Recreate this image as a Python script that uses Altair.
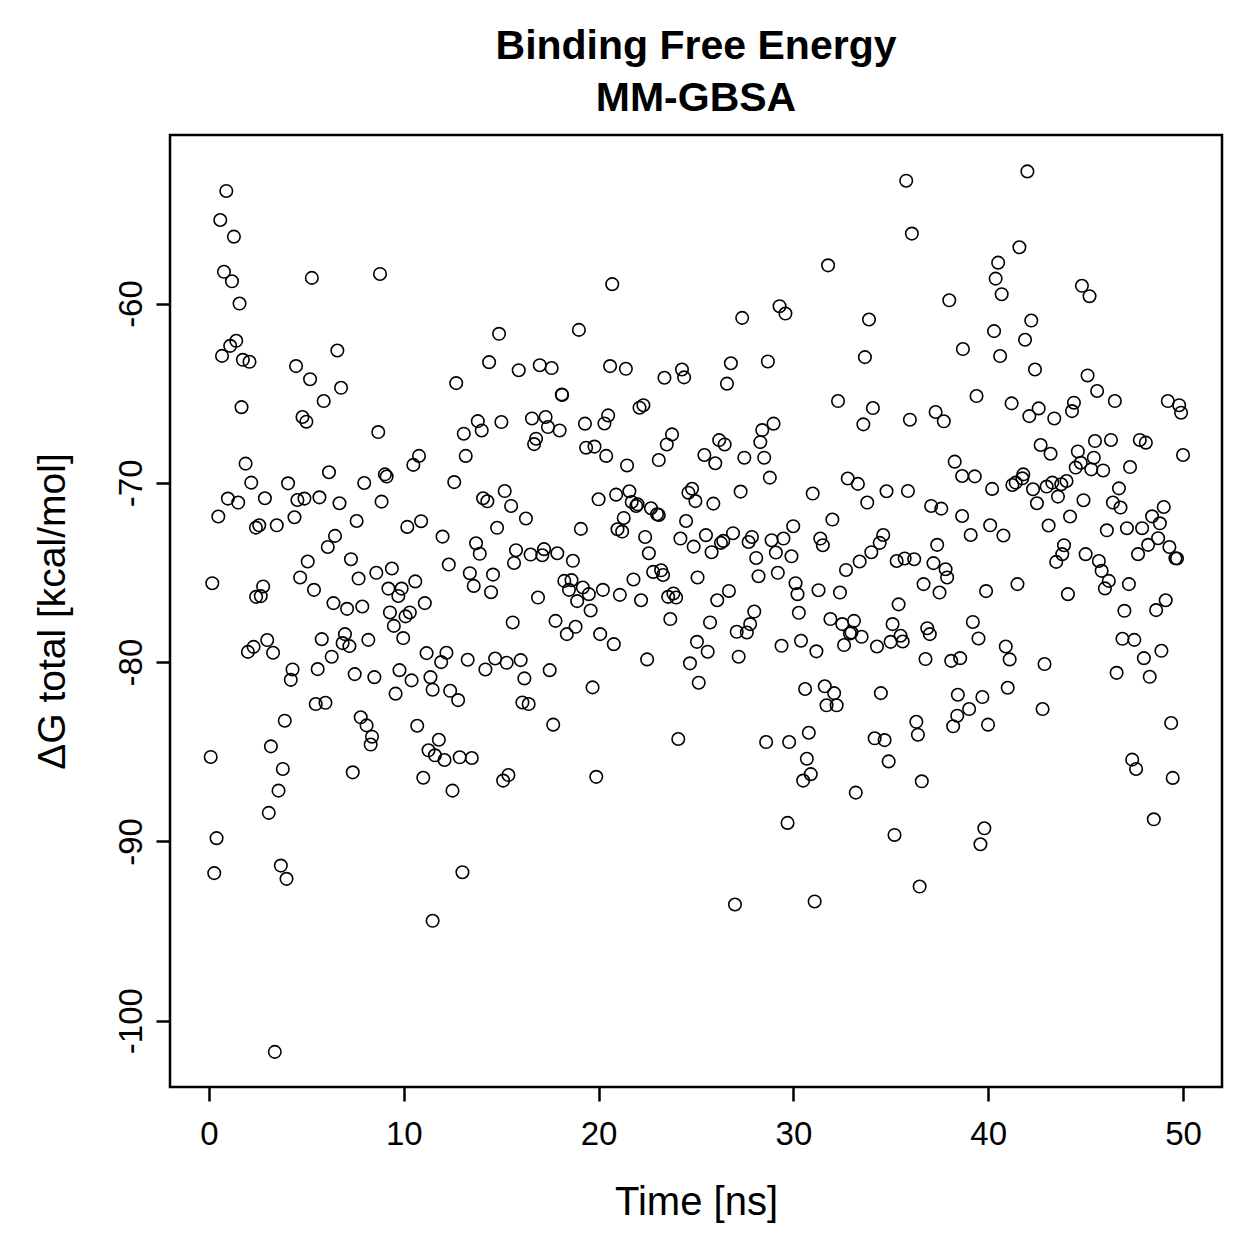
import altair as alt
import pandas as pd

time_ns = [
    0.89, 0.58, 1.28, 0.77, 1.18, 1.57, 5.28, 8.78, 1.40, 1.09, 0.67, 1.74, 2.08, 6.59, 4.47, 5.19,
    6.78, 5.89, 1.67, 4.80, 5.00, 8.69, 10.78,
    1.88, 2.17, 4.06, 6.16, 7.97, 9.03, 9.12, 10.49, 0.97, 1.50, 2.87, 4.54, 4.90, 5.67, 6.70, 8.86,
    0.48, 2.41, 2.58, 3.48, 4.39, 7.58, 10.18, 10.89, 6.47, 6.10, 5.07, 7.29, 4.68, 0.17, 2.78, 2.42,
    2.66, 5.39, 7.68, 8.59, 9.39, 9.21, 9.89, 9.72, 10.59, 11.08, 6.39, 7.09, 7.87, 9.29, 10.09, 10.31,
    9.49, 9.97, 2.99, 5.79, 6.98, 6.86, 7.21, 8.18, 2.00, 2.29, 3.29, 6.30, 11.17, 4.29, 4.20, 5.58,
    7.48, 8.49, 9.78, 10.40, 11.37, 11.48, 9.58, 5.48, 5.98, 3.89, 7.79, 8.09, 8.37, 8.30, 10.69, 3.18,
    0.09, 3.79, 7.38, 11.00, 11.27, 11.60, 11.80, 12.09,
    3.57, 3.07, 0.39, 0.27, 3.69, 3.98, 11.48, 3.38,
    20.70, 14.89, 18.99, 14.38, 15.90, 16.98, 17.59, 20.59, 21.40, 23.38, 24.28, 24.39, 12.69, 18.11,
    18.13, 22.10, 22.30, 13.80, 14.00, 15.01, 16.58, 17.28, 17.40, 18.00, 19.30, 20.49, 20.30, 23.77,
    23.50, 13.08, 16.79, 16.69, 19.36, 19.79, 13.18, 20.39,
    21.46, 23.09, 12.59, 15.18, 14.07, 14.29, 15.51, 16.27, 14.79, 11.99, 13.71, 13.90, 12.31, 13.39,
    13.59, 14.58, 14.48, 15.76, 15.66, 16.51, 17.11, 17.20, 17.88, 18.68, 19.09, 20.00, 20.90, 21.58,
    21.70, 21.93, 22.69, 23.00, 23.09, 22.00, 21.29, 20.97, 21.21, 22.39, 22.58, 22.80, 23.21, 23.31,
    24.49, 24.20, 24.88, 24.61, 24.80, 24.97, 18.24, 18.61, 18.48, 19.19, 19.50, 18.90, 20.22, 19.59,
    16.89, 21.09, 21.79, 22.18, 23.57, 23.84, 23.98, 23.68, 25.08, 15.59, 17.79, 18.37, 18.82, 20.08,
    20.78, 25.05, 22.49, 24.69, 25.14, 12.19, 11.92, 13.28, 14.19, 14.69, 15.28, 16.00, 16.19, 17.49,
    19.69, 12.38, 12.79, 16.09, 16.41, 17.67, 24.09, 12.87, 13.49, 15.10, 15.37, 19.88, 12.50, 13.01,
    35.79, 36.08, 31.78, 38.00, 27.37, 29.29, 29.59, 33.88, 38.70, 26.79, 28.69, 26.59, 33.67, 32.29,
    34.08, 33.59, 35.98, 37.30, 37.72, 28.98, 28.40, 28.30, 26.19, 26.47, 25.43, 27.48, 28.50,
    25.99, 28.79, 27.29, 25.89, 30.99, 32.79, 33.31, 33.79, 34.78, 35.88, 37.07, 37.59, 38.28, 38.66,
    38.66, 25.51, 25.80, 26.28, 26.40, 26.90, 27.70, 27.87, 28.09, 28.88, 29.49, 29.99, 29.10, 29.90,
    28.21, 29.20, 31.38, 31.51, 32.00, 32.70, 33.40, 34.00, 34.43, 34.61, 35.30, 35.71, 36.20, 37.38,
    37.19, 37.81, 37.89, 36.68, 37.50, 26.69, 26.09, 25.72, 25.60, 27.99, 27.78, 27.09, 27.61, 27.19,
    30.11, 30.21, 31.29, 32.39, 30.28, 31.90, 32.51, 33.11, 32.90, 32.98, 33.50, 32.60, 34.29, 29.39,
    30.39, 31.18, 35.40, 35.09, 35.50, 34.99, 35.61, 36.87, 37.00, 36.78, 38.10, 38.56, 30.60, 31.61,
    32.09, 31.70, 32.22, 34.49, 38.44, 36.31, 36.39, 38.20, 38.41, 30.79, 28.60, 29.78, 34.17, 34.68,
    30.69, 34.89, 30.89, 30.50, 33.20, 36.59, 29.70, 35.19, 36.48, 27.00, 31.09,
    42.01, 41.60, 40.51, 40.38, 40.69, 44.81, 45.20, 42.21, 40.30, 41.89, 40.61, 42.40, 45.10, 45.59,
    39.40, 41.20, 42.59, 42.11, 43.39, 44.40, 44.30, 46.50, 49.22, 49.80, 49.90, 42.69, 43.20, 44.60,
    45.48, 46.30, 47.78, 48.09, 50.00, 45.42,
    44.75, 44.49, 45.29, 45.90, 47.28, 39.31, 40.20, 41.24, 41.41, 41.75, 41.80, 42.30, 42.50, 43.00,
    43.29, 43.75, 44.02, 43.58, 44.89, 46.71, 46.40, 46.79, 49.01, 48.41, 48.81, 40.10, 39.10, 40.78,
    43.10, 44.20, 46.09, 47.12, 47.90, 43.89, 43.80, 43.49, 45.00, 45.68, 45.82, 46.19, 45.99, 47.22,
    48.21, 48.72, 49.30, 49.61, 49.69, 47.69, 41.50, 39.89, 44.09, 46.99, 49.11, 48.62, 39.21, 39.50,
    40.90, 41.10, 42.89, 46.89, 47.50, 47.99, 48.89, 46.59, 48.29, 41.00, 39.70, 39.02, 42.79, 39.99,
    49.39, 47.39, 47.59, 49.47, 39.80, 39.60, 48.50,
]

dg_total = [
    -53.72, -55.34, -56.27, -58.23, -58.76, -60.00, -58.57, -58.35, -62.08, -62.36, -62.92, -63.14,
    -63.25, -62.62, -63.49, -64.22, -64.70, -65.44, -65.78, -66.33, -66.59, -67.17, -68.50,
    -68.93, -69.99, -70.03, -69.41, -70.01, -69.53, -69.65, -69.00, -70.88, -71.10, -70.86, -70.96,
    -70.88, -70.81, -71.14, -71.05, -71.88, -72.50, -72.37, -72.37, -71.92, -72.13, -72.46, -72.14,
    -72.96, -73.58, -74.39, -74.26, -75.28, -75.60, -75.78, -76.36, -76.32, -75.97, -75.34, -75.02,
    -74.78, -75.90, -75.90, -76.31, -75.50, -76.71, -76.71, -77.03, -76.90, -77.23, -77.45, -77.23,
    -77.98, -78.66, -78.77, -78.72, -78.44, -78.94, -79.11, -78.76, -79.43, -79.15, -79.48, -79.70,
    -79.50, -80.41, -80.99, -80.39, -80.67, -80.84, -80.45, -81.02, -80.84, -81.54, -81.76, -82.34,
    -82.27, -83.27, -83.08, -83.53, -84.16, -84.60, -83.55, -84.70, -85.29, -85.96, -86.15, -86.45,
    -84.92, -85.20, -84.33, -85.46,
    -87.17, -88.41, -89.82, -91.77, -91.35, -92.09, -94.43, -101.74,
    -58.92, -61.69, -61.47, -63.27, -63.72, -63.44, -63.60, -63.49, -63.64, -64.14, -63.68, -64.12,
    -64.44, -65.07, -65.10, -65.81, -65.67, -66.56, -67.08, -66.61, -66.41, -66.33, -66.89, -67.08,
    -66.70, -66.24, -66.69, -67.30, -67.86, -67.26, -67.54, -67.84, -68.04, -67.98, -68.50, -68.50,
    -69.03, -68.73, -69.96, -70.46, -70.86, -71.03, -71.29, -71.99, -72.51, -73.00, -73.37, -73.96,
    -74.56, -75.04, -75.75, -75.12, -76.10, -73.76, -74.47, -74.00, -74.04, -73.70, -73.93, -74.35,
    -72.57, -70.92, -70.66, -70.47, -71.07, -71.29, -71.42, -71.75, -71.79, -71.20, -71.96, -72.59,
    -72.72, -73.02, -73.93, -74.97, -74.88, -75.14, -72.13, -73.11, -73.56, -70.55, -70.33, -71.02,
    -75.47, -75.43, -75.97, -75.84, -76.21, -76.60, -75.97, -77.12, -76.40, -76.25, -75.39, -76.55,
    -76.36, -76.17, -76.40, -77.60, -75.28, -77.79, -77.70, -78.44, -78.03, -78.44, -79.00, -78.87,
    -79.85, -80.07, -81.15, -79.48, -80.00, -79.87, -80.41, -79.80, -80.04, -79.89, -80.91, -80.45,
    -81.41, -81.60, -82.12, -82.25, -82.34, -83.49, -84.29, -85.31, -85.35, -86.61, -86.30, -86.40,
    -87.17, -91.72,
    -53.15, -56.10, -57.87, -59.82, -60.80, -60.15, -60.56, -60.89, -62.54, -63.33, -63.23, -64.47,
    -62.99, -65.44, -65.83, -66.74, -66.48, -66.05, -66.57, -66.70, -67.06, -67.73, -67.62, -67.86,
    -68.45, -68.60, -68.60,
    -68.91, -69.71, -70.49, -71.16, -70.60, -69.76, -70.06, -71.10, -70.47, -70.46, -71.29, -71.44,
    -68.82, -69.62, -71.85, -72.92, -73.87, -73.35, -73.24, -72.81, -73.30, -73.02, -74.19, -73.20,
    -73.11, -72.42, -73.89, -74.10, -75.21, -75.02, -73.11, -73.48, -72.05, -74.86, -74.39, -73.87,
    -73.35, -72.91, -74.36, -74.22, -74.26, -73.46, -74.48, -74.82, -75.28, -75.65, -76.12, -76.03,
    -76.55, -77.79, -79.42, -77.18, -77.88, -78.31, -78.35, -79.70, -75.60, -76.21, -75.99, -76.12,
    -77.25, -77.60, -77.88, -77.70, -78.40, -78.35, -78.59, -79.05, -79.13, -79.09, -78.81, -79.40,
    -76.78, -77.88, -78.53, -78.87, -78.85, -78.11, -78.44, -79.83, -79.93, -79.78, -81.50, -81.35,
    -81.73, -82.41, -82.41, -81.73, -81.82, -83.33, -84.05, -83.58, -82.99, -83.94, -84.46, -84.46,
    -84.25, -84.35, -85.39, -85.54, -86.25, -86.61, -87.28, -86.65, -88.97, -89.64, -92.52, -93.52,
    -93.35,
    -52.63, -56.86, -57.72, -58.61, -59.48, -59.01, -59.59, -60.95, -61.54, -62.02, -62.93, -63.68,
    -64.01, -64.88, -65.16, -65.57, -65.85, -66.28, -66.41, -65.53, -66.00, -65.44, -65.44, -65.67,
    -66.09, -67.89, -68.38, -68.25, -67.67, -67.61, -67.61, -67.76, -68.45, -68.60,
    -68.88, -69.15, -69.25, -69.31, -69.12, -69.64, -70.34, -70.12, -69.99, -69.75, -69.53, -70.36,
    -71.14, -70.21, -69.99, -70.08, -69.90, -70.77, -70.97, -70.31, -71.10, -71.38, -71.35, -71.87,
    -72.26, -72.37, -72.91, -72.94, -72.38, -71.88, -72.65, -72.53, -72.53, -73.48, -73.98, -74.41,
    -73.98, -74.36, -74.91, -75.47, -75.89, -75.65, -73.46, -73.09, -73.58, -74.21, -74.22, -73.98,
    -75.65, -76.04, -76.21, -77.14, -76.55, -77.10, -77.76, -78.68, -79.13, -79.85, -80.11, -78.70,
    -78.76, -79.78, -79.37, -80.60, -80.82, -81.43, -81.95, -82.62, -82.62, -83.49, -83.40, -85.44,
    -85.96, -86.46, -89.27, -90.16, -88.77,
]

x_ticks = [0, 10, 20, 30, 40, 50]
y_ticks = [-100, -90, -80, -70, -60]

n = min(len(time_ns), len(dg_total))
df = pd.DataFrame({"t": time_ns[:n], "dg": dg_total[:n]})

FONT = "Liberation Sans"

points = alt.Chart(df).mark_point(
    shape="circle", filled=False, color="black", size=156, strokeWidth=1.6, opacity=1
).encode(
    x=alt.X(
        "t:Q",
        scale=alt.Scale(domain=[-2, 52], nice=False, zero=False),
        axis=alt.Axis(
            values=x_ticks, title="Time [ns]", grid=False, domain=False,
            tickSize=14, tickWidth=2.5, tickColor="black",
            labelFont=FONT, labelFontSize=33, labelColor="black", labelPadding=17,
            labelFlush=False, labelExpr="'' + datum.value",
            titleFont=FONT, titleFontSize=40, titleFontWeight="normal", titleColor="black",
            titleX=526, titleY=115, titleAlign="center", titleBaseline="middle",
        ),
    ),
    y=alt.Y(
        "dg:Q",
        scale=alt.Scale(domain=[-103.7, -50.6], nice=False, zero=False),
        axis=alt.Axis(
            values=y_ticks, title="ΔG total [kcal/mol]", grid=False, domain=False,
            tickSize=14, tickWidth=2.5, tickColor="black",
            labelFont=FONT, labelFontSize=33, labelColor="black", labelPadding=8,
            labelAngle=270, labelAlign="center", labelBaseline="bottom", labelFlush=False,
            labelExpr="'' + datum.value",
            titleFont=FONT, titleFontSize=39, titleFontWeight="normal", titleColor="black",
            titleAngle=270, titleX=-118, titleY=476, titleAlign="center", titleBaseline="middle",
        ),
    ),
).properties(
    width=1052,
    height=952,
    autosize=alt.AutoSizeParams(type="none"),
    padding={"left": 170, "top": 135, "right": 37, "bottom": 172},
    background="white",
    title=alt.TitleParams(
        ["Binding Free Energy", "MM-GBSA"], font=FONT, fontSize=41, fontWeight="bold",
        color="black", anchor="middle", offset=15, lineHeight=52,
    ),
)

chart = points.configure_view(stroke="black", strokeWidth=2.5, strokeOpacity=1)

chart.save("out.html", embed_options={"renderer": "svg", "actions": False})
